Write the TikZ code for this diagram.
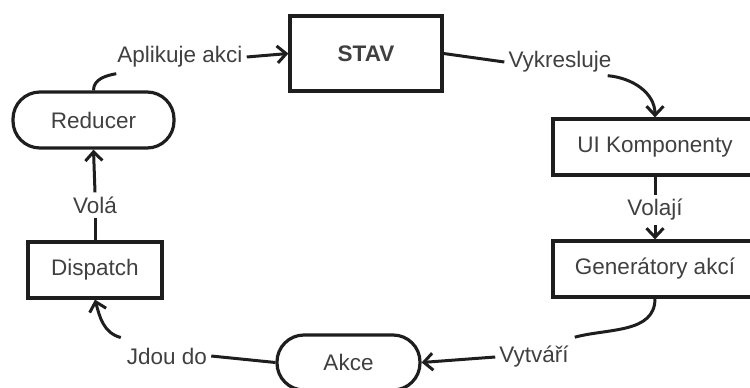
\documentclass[tikz,border=0pt]{standalone}
\usepackage{fontspec}
\setmainfont{Liberation Sans}
\usetikzlibrary{arrows.meta}
\definecolor{ink}{HTML}{1E1E1E}
\definecolor{txt}{HTML}{404040}
\begin{document}
\begin{tikzpicture}[x=1pt,y=-1pt,
  font=\fontsize{22.5}{26}\selectfont,
  box/.style={draw=ink, line width=3.2pt, rectangle, inner sep=0pt, text=txt},
  pill/.style={box, rounded corners=27pt},
  lbl/.style={inner sep=4pt, text=txt},
  link/.style={draw=ink, line width=3pt},
  tip/.style={link, -{Straight Barb[length=9pt,width=17pt,line width=3pt]}}
]
\useasboundingbox (0,0) rectangle (750,388);

% boxes
\node[box, minimum width=152pt, minimum height=75pt] (stav) at (366,53.5) {\textbf{STAV}};
\node[pill, minimum width=161pt, minimum height=56pt] (reducer) at (93.5,120) {Reducer};
\node[box, minimum width=134pt, minimum height=56pt] (dispatch) at (95,270) {Dispatch};
\node[box, minimum width=204pt, minimum height=56pt] (ui) at (655,147) {UI Komponenty};
\node[box, minimum width=204pt, minimum height=56pt] (gen) at (655,269) {Generátory akcí};
\node[pill, minimum width=143pt, minimum height=55pt] (akce) at (348.5,362.5) {Akce};

% edge labels
\node[lbl] (apl) at (180,57) {Aplikuje akci};
\node[lbl] (vyk) at (560,62) {Vykresluje};
\node[lbl] (volaji) at (655,210) {Volají};
\node[lbl] (vola) at (95,205) {Volá};
\node[lbl] (jdou) at (167,356) {Jdou do};
\node[lbl] (vytv) at (534,357) {Vytváří};

% connectors
\draw[link] (reducer.north) to[out=90,in=190] ([xshift=3pt,yshift=-2pt]apl.south west);
\draw[tip] (apl.east) -- (stav.west);
\draw[link] (stav.east) -- (vyk.west);
\draw[tip] ([xshift=-8pt,yshift=1pt]vyk.south east) to[out=-5,in=90] (ui.north);
\draw[link] (ui.south) -- (volaji.north);
\draw[tip] (volaji.south) -- (gen.north);
\draw[link] (dispatch.north) -- (vola.south);
\draw[tip] (vola.north) -- (reducer.south);
\draw[link] (gen.south) to[out=-90,in=15] ([xshift=2pt,yshift=5pt]vytv.north east);
\draw[tip] (vytv.west) -- (akce.east);
\draw[link] (akce.west) -- (jdou.east);
\draw[tip] ([xshift=-2pt,yshift=6pt]jdou.north west) to[out=165,in=-75] (dispatch.south);
\end{tikzpicture}
\end{document}
